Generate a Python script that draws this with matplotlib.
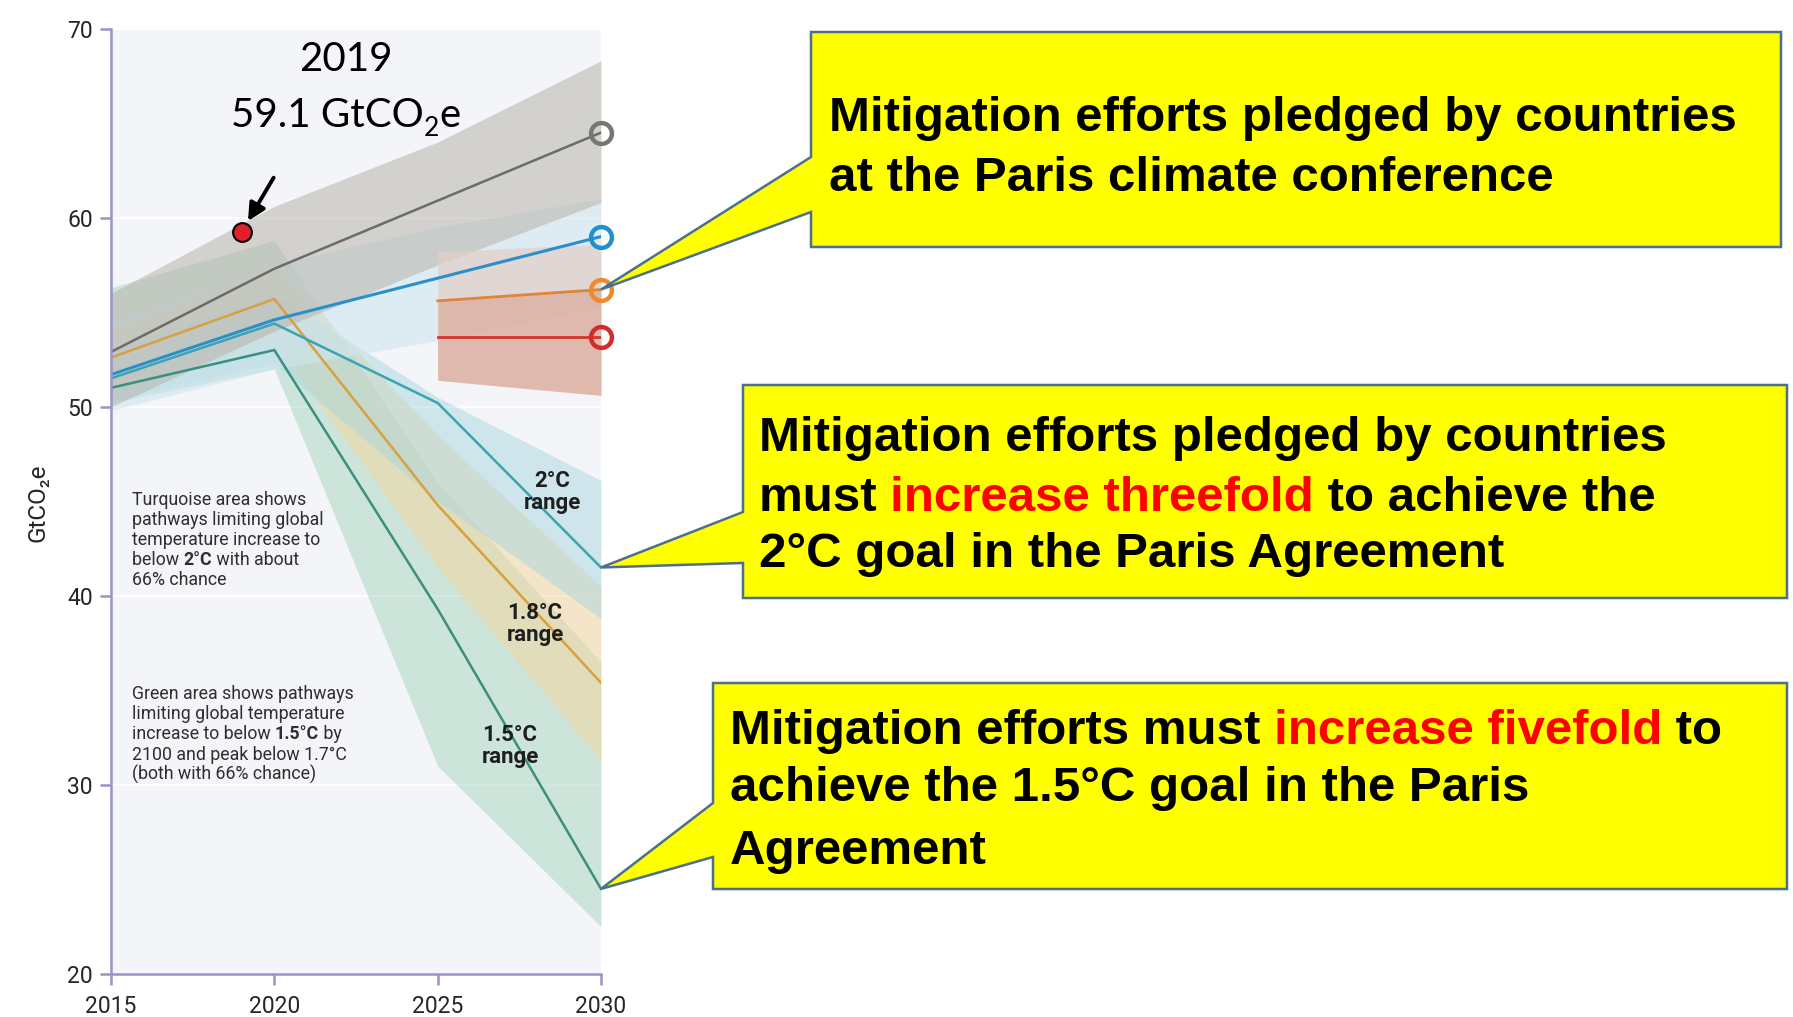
import numpy as np
import matplotlib.pyplot as plt
from matplotlib.patches import Polygon
from matplotlib.transforms import Affine2D

W, H = 1793, 1017

# emission pathways (GtCO2e)
years = [2015, 2020, 2025, 2030]
policy = [52.9, 57.3, 60.9, 64.5]
policy_lo = [50.0, 54.0, 57.5, 60.8]
policy_hi = [56.0, 60.6, 64.0, 68.3]
uncond = [51.7, 54.6, 56.8, 59.0]
uncond_lo = [49.8, 52.0, 53.5, 55.3]
uncond_hi = [54.5, 57.5, 59.5, 61.0]

ndc_years = [2025, 2030]
cond_orange = [55.6, 56.2]
cond_red = [53.7, 53.7]
ndc_lo = [51.4, 50.6]
ndc_hi = [58.2, 58.6]

path_2c = [51.5, 54.4, 50.2, 41.5]
band_2c_lo = [50.3, 52.3, 45.0, 38.8]
band_2c_hi = [53.0, 56.0, 50.5, 46.1]
path_18 = [52.6, 55.7, 44.8, 35.4]
band_18_lo = [50.8, 53.5, 41.5, 31.3]
band_18_hi = [54.0, 57.5, 48.5, 40.5]
path_15 = [51.0, 53.0, 39.3, 24.5]
band_15_lo = [50.2, 52.0, 31.0, 22.5]
band_15_hi = [56.3, 58.8, 46.0, 36.5]

dot_year, dot_val = 2019, 59.25
end_vals = [64.5, 59.0, 56.2, 53.7]
end_cols = ['#737873', '#1f8fd0', '#ee8a2a', '#d42a2a']

lilac = '#9b93c9'

fig = plt.figure(figsize=(W / 100, H / 100), dpi=100)
renderer = fig.canvas.get_renderer()
pix = Affine2D().scale(1, -1).translate(0, H)   # top-left pixel coords

ax = fig.add_axes([111 / W, 1 - 974 / H, 490 / W, (974 - 28.6) / H])
ax.set_facecolor('#f3f5f8')
ax.set_xlim(2015, 2030)
ax.set_ylim(20, 70)

ax.fill_between(years, band_15_lo, band_15_hi, color='#a8d5c0', alpha=0.5, lw=0)
ax.fill_between(years, band_18_lo, band_18_hi, color='#f5d699', alpha=0.5, lw=0)
ax.fill_between(years, band_2c_lo, band_2c_hi, color='#a9d6e0', alpha=0.5, lw=0)
ax.fill_between(years, uncond_lo, uncond_hi, color='#cfe6f0', alpha=0.6, lw=0)
ax.fill_between(years, policy_lo, policy_hi, color='#b8b4ab', alpha=0.55, lw=0)
ax.fill_between(ndc_years, ndc_lo, ndc_hi, color='#e2cfc8', alpha=0.7, lw=0)
ax.fill_between(ndc_years, ndc_lo, cond_orange, color='#d99a85', alpha=0.5, lw=0)

ax.plot(years, path_15, color='#3a8f7f', lw=1.8)
ax.plot(years, path_18, color='#d9a040', lw=1.8)
ax.plot(years, path_2c, color='#3ba3b3', lw=1.8)
ax.plot(years, policy, color='#6b6b6b', lw=1.8)
ax.plot(years, uncond, color='#2a8fcb', lw=2.2)
ax.plot(ndc_years, cond_orange, color='#e0843c', lw=2)
ax.plot(ndc_years, cond_red, color='#d9342b', lw=2)

for v, c in zip(end_vals, end_cols):
    ax.plot(2030, v, 'o', ms=15, mfc='none', mec=c, mew=3.2, clip_on=False, zorder=6)

ax.plot(dot_year, dot_val, 'o', ms=13.5, mfc='#e3202a', mec='black', mew=1.5, zorder=7)
ax.annotate('', xy=(dot_year, dot_val), xytext=(23, 39), textcoords='offset points',
            arrowprops=dict(arrowstyle='-|>', color='black', lw=2.8, mutation_scale=26,
                            shrinkA=0, shrinkB=9))

for s in ['top', 'right']:
    ax.spines[s].set_visible(False)
for s in ['left', 'bottom']:
    ax.spines[s].set_color(lilac)
    ax.spines[s].set_linewidth(1.8)
ax.set_xticks([2015, 2020, 2025, 2030])
ax.set_yticks([20, 30, 40, 50, 60, 70])
ax.tick_params(direction='out', length=8, width=1.8, color=lilac, labelsize=16.5,
               labelcolor='#262626')
ax.tick_params(axis='x', pad=7)
ax.tick_params(axis='y', pad=5)
for lab in ax.get_xticklabels() + ax.get_yticklabels():
    lab.set_family('Roboto')
ax.grid(axis='y', color='white', lw=1.5)
ax.set_axisbelow(True)

fig.text(38, 503, 'GtCO₂e', transform=pix, rotation=90, ha='center', va='center',
         fontsize=17.5, family=['Roboto', 'DejaVu Sans'], color='#262626')


def measure(s, **kw):
    t = fig.text(0, 0, s, **kw)
    w = t.get_window_extent(renderer).width
    t.remove()
    return w


def rich(x, y, parts, ha='left', **base):
    offs, pos = [], 0
    for s, extra in parts:
        kw = {**base, **extra}
        kw.pop('dy', None)
        offs.append(pos)
        pos += measure(s + '|', **kw) - measure('|', **kw)
    if ha == 'center':
        x -= pos / 2
    for (s, extra), o in zip(parts, offs):
        kw = {**base, **extra}
        dy = kw.pop('dy', 0)
        fig.text(x + o, y + dy, s, transform=pix, va='baseline', zorder=8, **kw)


# 2019 label
rich(346, 71, [('2019', {})], ha='center', family='Lato', fontsize=29)
rich(346, 127, [('59.1 GtCO', {}), ('2', {'fontsize': 19, 'dy': 9}), ('e', {})],
     ha='center', family='Lato', fontsize=29)

# explanatory notes inside the chart
small = dict(family='Roboto', fontsize=12.8, color='#2e2e2e')
note1 = [[('Turquoise area shows', {})],
         [('pathways limiting global', {})],
         [('temperature increase to', {})],
         [('below ', {}), ('2°C', {'weight': 'bold'}), (' with about', {})],
         [('66% chance', {})]]
note2 = [[('Green area shows pathways', {})],
         [('limiting global temperature', {})],
         [('increase to below ', {}), ('1.5°C', {'weight': 'bold'}), (' by', {})],
         [('2100 and peak below 1.7°C', {})],
         [('(both with 66% chance)', {})]]
for i, line in enumerate(note1):
    rich(131.5, 505 + 20 * i, line, **small)
for i, line in enumerate(note2):
    rich(131.5, 699 + 20.2 * i, line, **small)

rng = dict(family='Roboto', fontsize=16, weight='bold', color='#1e1e1e')
for x, y, lab in [(552, 487, '2°C'), (535, 619, '1.8°C'), (510, 741, '1.5°C')]:
    rich(x, y, [(lab, {})], ha='center', **rng)
    rich(x, y + 22, [('range', {})], ha='center', **rng)


# callout boxes
def callout(box, wedge, value):
    x0, y0, x1, y1 = box
    xd, yd = ax.transData.transform((2030, value))
    verts = [(x0, y0), (x1, y0), (x1, y1), (x0, y1), (x0, wedge[1]),
             (xd, H - yd), (x0, wedge[0])]
    fig.add_artist(Polygon(verts, closed=True, transform=pix, facecolor='#ffff00',
                           edgecolor='#4b6f8c', lw=1.8, zorder=5))


callout((811, 32, 1781, 247), (157, 212), 56.2)
callout((743, 385, 1787, 598), (512, 563), 41.5)
callout((713, 683, 1787, 889), (803, 857), 24.5)

big = dict(family='Liberation Sans', fontsize=35.5, weight='bold', color='black')
red = {'color': '#ff0000'}
rich(829, 131, [('Mitigation efforts pledged by countries', {})], **big)
rich(829, 191, [('at the Paris climate conference', {})], **big)
rich(759, 451, [('Mitigation efforts pledged by countries', {})], **big)
rich(759, 511, [('must ', {}), ('increase threefold', red), (' to achieve the', {})], **big)
rich(759, 567, [('2°C goal in the Paris Agreement', {})], **big)
rich(730, 744, [('Mitigation efforts must ', {}), ('increase fivefold', red), (' to', {})], **big)
rich(730, 801, [('achieve the 1.5°C goal in the Paris', {})], **big)
rich(730, 864, [('Agreement', {})], **big)

fig.savefig('out.png', dpi=100)
